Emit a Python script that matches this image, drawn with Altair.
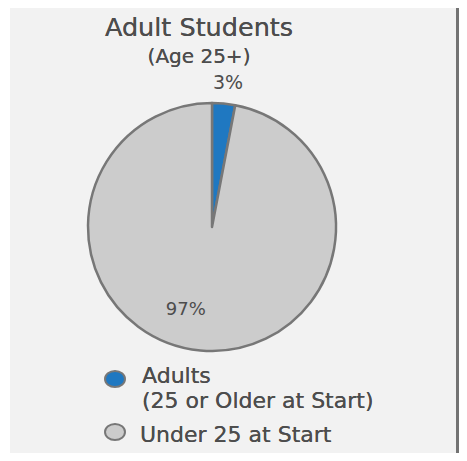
import altair as alt
import pandas as pd

categories = ["Adults (25 or Older at Start)", "Under 25 at Start"]
values = [3, 97]
labels = ["3%", "97%"]
colors = ["#1f78c1", "#cccccc"]

df = pd.DataFrame({"cat": categories, "value": values, "label": labels})

FONT = "DejaVu Sans"
TXT = "#4d4d4d"
CX, CY = 204, 219

color = alt.Color("cat:N", scale=alt.Scale(domain=categories, range=colors), legend=None)
order = alt.Order("order:Q")

base = alt.Chart(df).transform_calculate(order="datum.cat == 'Adults (25 or Older at Start)' ? 0 : 1")

stacked = base.transform_stack(
    stack="value", as_=["v0", "v1"], groupby=[], sort=[alt.SortField("order", order="ascending")]
).transform_calculate(mid="(datum.v0 + datum.v1) / 2")

left_white = alt.Chart(df).mark_rect(color="white").encode(
    x=alt.value(0), x2=alt.value(2), y=alt.value(0), y2=alt.value(445)
)
bar = alt.Chart(df).mark_rect(color="#737373").encode(
    x=alt.value(448), x2=alt.value(451), y=alt.value(0), y2=alt.value(445)
)

pie = base.mark_arc(outerRadius=124, stroke="#777777", strokeWidth=2.5, strokeJoin="round").encode(
    theta=alt.Theta("value:Q", stack=True), color=color, order=order, x=alt.value(CX), y=alt.value(CY)
)

lab_small = stacked.transform_filter("datum.value < 50").mark_text(
    radius=143, font=FONT, fontSize=19, color=TXT, dx=2.5, dy=-1.5
).encode(theta=alt.Theta("mid:Q", stack=None), text="label:N", x=alt.value(CX), y=alt.value(CY))

lab_big = stacked.transform_filter("datum.value >= 50").mark_text(
    radius=87, font=FONT, fontSize=18, color=TXT, dx=-18, dy=-3.5
).encode(theta=alt.Theta("mid:Q", stack=None), text="label:N", x=alt.value(CX), y=alt.value(CY))

title = alt.Chart(df).mark_text(font=FONT, fontSize=25.5, color=TXT, baseline="alphabetic").encode(
    x=alt.value(191), y=alt.value(28), text=alt.value("Adult Students")
)
subtitle = alt.Chart(df).mark_text(font=FONT, fontSize=20, color=TXT, baseline="alphabetic").encode(
    x=alt.value(191), y=alt.value(55), text=alt.value("(Age 25+)")
)

ellipse = "M-1,0 A1,0.8 0 1,1 1,0 A1,0.8 0 1,1 -1,0 Z"

leg_pt1 = alt.Chart(df).transform_filter(alt.datum.cat == categories[0]).mark_point(
    filled=True, shape=ellipse, size=400, stroke="#777777", strokeWidth=2, opacity=1
).encode(x=alt.value(107), y=alt.value(371), fill=color)
leg_pt2 = alt.Chart(df).transform_filter(alt.datum.cat == categories[1]).mark_point(
    filled=True, shape=ellipse, size=400, stroke="#777777", strokeWidth=2, opacity=1
).encode(x=alt.value(107), y=alt.value(424), fill=color)

leg_t1 = alt.Chart(df).mark_text(font=FONT, fontSize=22, color=TXT, align="left", baseline="alphabetic",
                                 lineBreak="\n", lineHeight=25).encode(
    x=alt.value(134), y=alt.value(375), text=alt.value("Adults\n(25 or Older at Start)")
)
leg_t2 = alt.Chart(df).mark_text(font=FONT, fontSize=22, color=TXT, align="left", baseline="alphabetic").encode(
    x=alt.value(132), y=alt.value(433.5), text=alt.value("Under 25 at Start")
)

chart = alt.layer(left_white, bar, pie, lab_small, lab_big, title, subtitle, leg_pt1, leg_pt2, leg_t1, leg_t2).properties(
    width=451, height=445, autosize=alt.AutoSizeParams(type="none"), padding=0, background="#f2f2f2"
).configure_view(stroke=None)

chart.save("out.html", embed_options={"renderer": "svg", "actions": False})
